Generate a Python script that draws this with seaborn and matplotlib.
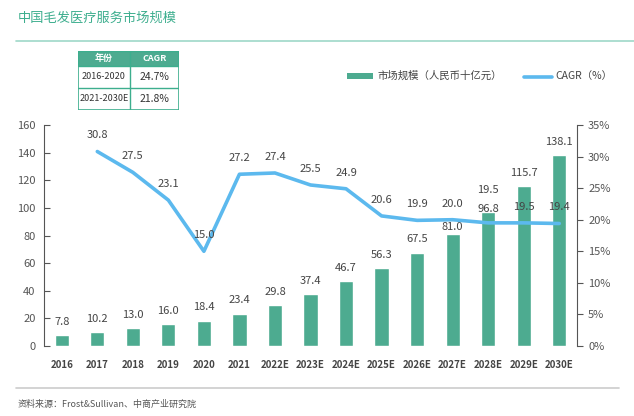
import numpy as np
import pandas as pd
import matplotlib
matplotlib.use("Agg")
import matplotlib.pyplot as plt
import seaborn as sns
from matplotlib.patches import Rectangle
from matplotlib.lines import Line2D
from matplotlib.ticker import FuncFormatter

years = ["2016", "2017", "2018", "2019", "2020", "2021", "2022E", "2023E",
         "2024E", "2025E", "2026E", "2027E", "2028E", "2029E", "2030E"]
market = [7.8, 10.2, 13.0, 16.0, 18.4, 23.4, 29.8, 37.4, 46.7, 56.3, 67.5,
          81.0, 96.8, 115.7, 138.1]
cagr_years = years[1:]
cagr = [30.8, 27.5, 23.1, 15.0, 27.2, 27.4, 25.5, 24.9, 20.6, 19.9, 20.0,
        19.5, 19.5, 19.4]
table_header = ["年份", "CAGR"]
table_rows = [["2016-2020", "24.7%"], ["2021-2030E", "21.8%"]]
title = "中国毛发医疗服务市场规模"
source = "资料来源：Frost&Sullivan、中商产业研究院"
legend_bar = "市场规模（人民币十亿元）"
legend_line = "CAGR（%）"

GREEN = "#4DAB90"
BLUE = "#5CB9EE"
TEAL = "#3DAE8E"
GRAY = "#555555"

# label offset tweaks (points) to mimic the reference's placement
bar_pad_override = {"2027E": 1.5, "2028E": -1.0}
line_pad_override = {"2028E": 20}

sns.set_style("white")
plt.rcParams["font.family"] = ["Noto Sans CJK SC", "DejaVu Sans"]

W, H = 634, 416
fig = plt.figure(figsize=(W / 100, H / 100), dpi=100)

def fx(px):
    return px / W

def fy(py):
    return 1 - py / H

ax = fig.add_axes([fx(44), fy(346), fx(577) - fx(44), fy(125) - fy(346)])
df = pd.DataFrame({"year": years, "market": market})
sns.barplot(data=df, x="year", y="market", color=GREEN, width=0.4,
            saturation=1, ax=ax)
ax.set_xlim(-0.5, len(years) - 0.5)
ax.set_ylim(0, 160)
ax.set_yticks(range(0, 161, 20))
ax.set_xlabel("")
ax.set_ylabel("")
for i, (y, v) in enumerate(zip(years, market)):
    pad = bar_pad_override.get(y, 6)
    ax.annotate(f"{v:.1f}", (i, v), xytext=(0, pad), textcoords="offset points",
                ha="center", va="bottom", fontsize=8, color="#444444")

ax2 = ax.twinx()
pos = [years.index(y) for y in cagr_years]
ldf = pd.DataFrame({"pos": pos, "cagr": cagr})
sns.lineplot(data=ldf, x="pos", y="cagr", color=BLUE, linewidth=2.6, ax=ax2)
ax2.set_ylim(0, 35)
ax2.set_yticks(range(0, 36, 5))
ax2.yaxis.set_major_formatter(FuncFormatter(lambda v, p: f"{v:.0f}%"))
ax2.set_xlabel("")
ax2.set_ylabel("")
for y, p, v in zip(cagr_years, pos, cagr):
    pad = line_pad_override.get(y, 8)
    ax2.annotate(f"{v:.1f}", (p, v), xytext=(0, pad), textcoords="offset points",
                 ha="center", va="bottom", fontsize=8, color="#444444")

for a in (ax, ax2):
    for s in ["top", "bottom"]:
        a.spines[s].set_visible(False)
ax.spines["right"].set_visible(False)
ax2.spines["left"].set_visible(False)
ax.spines["left"].set_color(GRAY)
ax2.spines["right"].set_color(GRAY)
ax.tick_params(axis="y", direction="in", length=4, color=GRAY, labelsize=8,
               labelcolor="#555555", pad=6)
ax2.tick_params(axis="y", direction="out", length=4, color=GRAY, labelsize=8,
                labelcolor="#555555", pad=4)
ax.tick_params(axis="x", length=0, labelsize=7, labelcolor="#444444", pad=10)
for t in ax.get_xticklabels():
    t.set_fontweight("bold")
ax.set_xlim(-0.5, len(years) - 0.5)

# title and header rule
fig.text(fx(18), fy(18), title, fontsize=9.5, color=TEAL, ha="left", va="center")
fig.add_artist(Line2D([fx(16), 1], [fy(41), fy(41)], color="#9ED8C8", lw=1.2))

# CAGR table
tab = fig.add_axes([fx(78), fy(110), fx(179) - fx(78), fy(51) - fy(110)])
tab.set_xlim(0, 1)
tab.set_ylim(0, 3)
tab.axis("off")
split = (130 - 78) / (179 - 78)
tab.add_patch(Rectangle((0, 2.25), 1, 0.75, facecolor=GREEN, edgecolor=TEAL, lw=1))
tab.add_patch(Rectangle((0, 0), 1, 3, facecolor="none", edgecolor=TEAL, lw=1.2))
tab.plot([split, split], [0, 3], color=TEAL, lw=1)
tab.plot([0, 1], [1.12, 1.12], color=TEAL, lw=1)
tab.text(split / 2, 2.62, table_header[0], ha="center", va="center",
         fontsize=6.5, color="white", fontweight="bold")
tab.text((1 + split) / 2, 2.62, table_header[1], ha="center", va="center",
         fontsize=6.5, color="white", fontweight="bold")
for i, (a_, b_) in enumerate(table_rows):
    yy = 1.68 - i * 1.12
    tab.text(split / 2, yy, a_, ha="center", va="center", fontsize=6.5, color="#333333")
    tab.text((1 + split) / 2, yy, b_, ha="center", va="center", fontsize=7.5, color="#333333")

# legend
fig.add_artist(Rectangle((fx(347), fy(79)), fx(373) - fx(347), fy(73) - fy(79),
                         facecolor=GREEN, edgecolor="none"))
fig.text(fx(377), fy(76), legend_bar, fontsize=7.5, color="#444444",
         ha="left", va="center")
fig.add_artist(Line2D([fx(524), fx(552)], [fy(77), fy(77)], color=BLUE, lw=2.6))
fig.text(fx(555), fy(76), legend_line, fontsize=7.5, color="#444444",
         ha="left", va="center")

# footer
fig.add_artist(Line2D([fx(16), fx(619)], [fy(388), fy(388)], color="#CCCCCC", lw=1.2))
fig.text(fx(18), fy(404), source, fontsize=6.5, color="#555555", ha="left", va="center")

fig.savefig("out.png", dpi=100)
